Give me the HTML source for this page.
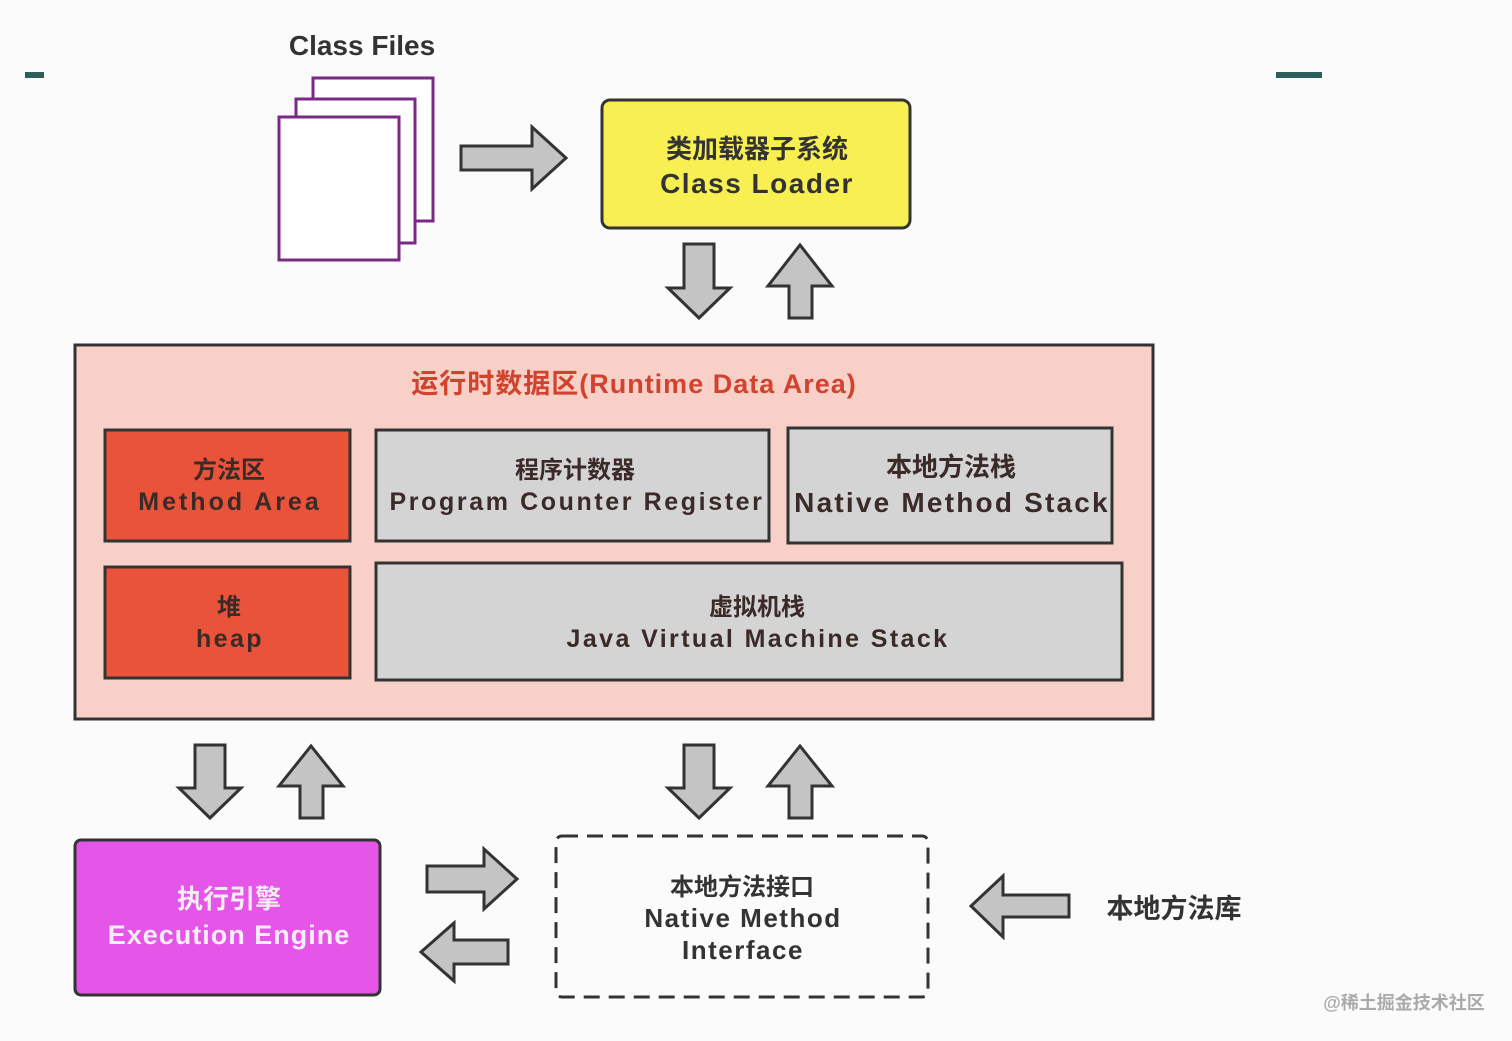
<!DOCTYPE html>
<html><head><meta charset="utf-8"><style>
body{margin:0;background:#fbfbfb;}
svg{display:block}
text{font-family:"Liberation Sans","Noto Sans CJK SC",sans-serif;font-weight:bold;text-anchor:middle}
.e{letter-spacing:2.4px}
</style></head><body>
<svg width="1512" height="1041" viewBox="0 0 1512 1041">
<rect width="1512" height="1041" fill="#fbfbfb"/>
<rect x="25" y="72" width="19" height="6" fill="#2f5f5a"/>
<rect x="1276" y="72" width="46" height="6" fill="#2f5f5a"/>
<text x="362" y="55" font-size="28" fill="#333">Class Files</text>
<g fill="#fff" stroke="#7a2a85" stroke-width="3">
<rect x="313" y="78" width="120" height="143"/>
<rect x="296" y="99" width="119" height="144"/>
<rect x="279" y="117" width="120" height="143"/>
</g>
<g fill="#c4c4c4" stroke="#333" stroke-width="3" stroke-linejoin="miter">
<polygon points="461,146 532,146 532,127 566,158 532,189 532,170 461,170"/>
<polygon points="684,244 714,244 714,288 730,288 699,318 668,288 684,288"/>
<polygon points="789,318 812,318 812,286 832,286 800,245 768,286 789,286"/>
<polygon points="195,745 225,745 225,788 241,788 210,818 179,788 195,788"/>
<polygon points="300,818 323,818 323,786 343,786 311,746 279,786 300,786"/>
<polygon points="684,745 714,745 714,788 730,788 699,818 668,788 684,788"/>
<polygon points="789,818 812,818 812,786 832,786 800,746 768,786 789,786"/>
<polygon points="427,866 484,866 484,849 517,879 484,909 484,892 427,892"/>
<polygon points="508,940 454,940 454,923 421,952 454,981 454,964 508,964"/>
<polygon points="1069,895 1003,895 1003,876 971,906 1003,937 1003,917 1069,917"/>
</g>
<rect x="602" y="100" width="308" height="128" rx="8" fill="#f8f052" stroke="#333" stroke-width="3"/>
<text x="757" y="158" font-size="26" fill="#333">类加载器子系统</text>
<text x="757" y="193" font-size="28" fill="#333" style="letter-spacing:1.5px">Class Loader</text>
<rect x="75" y="345" width="1078" height="374" fill="#f8d0c8" stroke="#333" stroke-width="3"/>
<text x="634" y="393" font-size="27" fill="#d0432e" font-weight="normal" style="letter-spacing:1px">运行时数据区(Runtime Data Area)</text>
<g stroke="#333" stroke-width="3">
<rect x="105" y="430" width="245" height="111" fill="#e8533a"/>
<rect x="376" y="430" width="393" height="111" fill="#d4d4d4"/>
<rect x="788" y="428" width="324" height="115" fill="#d4d4d4"/>
<rect x="105" y="567" width="245" height="111" fill="#e8533a"/>
<rect x="376" y="563" width="746" height="117" fill="#d4d4d4"/>
</g>
<g fill="#3a2a28">
<text x="229" y="478" font-size="24">方法区</text>
<text x="230" y="510" font-size="25" class="e" style="letter-spacing:3px">Method Area</text>
<text x="575" y="478" font-size="24">程序计数器</text>
<text x="577" y="510" font-size="25" class="e" style="letter-spacing:2.6px">Program Counter Register</text>
<text x="951" y="476" font-size="26">本地方法栈</text>
<text x="952" y="512" font-size="28" style="letter-spacing:2.2px">Native Method Stack</text>
<text x="229" y="615" font-size="24">堆</text>
<text x="230" y="647" font-size="25" class="e">heap</text>
<text x="757" y="615" font-size="24">虚拟机栈</text>
<text x="758" y="647" font-size="25" class="e">Java Virtual Machine Stack</text>
</g>
<rect x="75" y="840" width="305" height="155" rx="6" fill="#e455e8" stroke="#333" stroke-width="3"/>
<text x="229" y="908" font-size="26" fill="#f6eef6">执行引擎</text>
<text x="229" y="944" font-size="27" fill="#f6eef6" style="letter-spacing:1px">Execution Engine</text>
<rect x="556" y="836" width="372" height="161" rx="6" fill="none" stroke="#333" stroke-width="3" stroke-dasharray="16,9"/>
<g fill="#333">
<text x="742" y="895" font-size="24">本地方法接口</text>
<text x="743" y="927" font-size="26" style="letter-spacing:1.5px">Native Method</text>
<text x="743" y="959" font-size="26" style="letter-spacing:1.5px">Interface</text>
<text x="1174" y="918" font-size="27">本地方法库</text>
</g>
<text x="1404" y="1009" font-size="18" fill="#aaa" font-weight="normal">@稀土掘金技术社区</text>
</svg>
</body></html>
